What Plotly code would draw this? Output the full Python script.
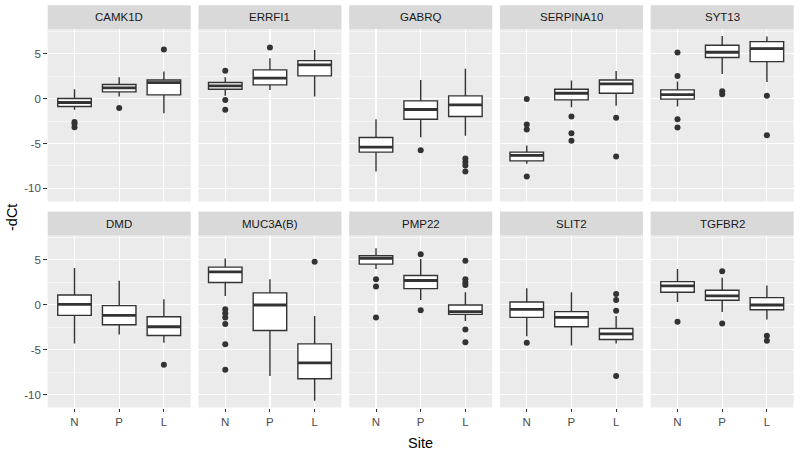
import plotly.graph_objects as go

genes = ["CAMK1D", "ERRFI1", "GABRQ", "SERPINA10", "SYT13",
         "DMD", "MUC3A(B)", "PMP22", "SLIT2", "TGFBR2"]
sites = ["N", "P", "L"]

lower = [[-1.26, 0.22, -1.63], [0.30, 0.96, 0.22], [-8.11, -4.30, -4.15],
         [-7.26, -0.96, -0.81], [-0.89, 2.74, 1.85], [-4.33, -3.32, -4.25],
         [0.97, -7.95, -10.71], [3.96, 0.52, -1.83], [-3.51, -4.55, -4.33],
         [0.30, -0.82, -1.64]]
q1 = [[-0.89, 0.74, 0.41], [1.04, 1.52, 2.52], [-5.96, -2.30, -2.00],
      [-6.93, -0.15, 0.59], [-0.07, 4.56, 4.11], [-1.19, -2.24, -3.43],
      [2.46, -2.87, -8.25], [4.51, 1.79, -1.08], [-1.42, -2.46, -3.88],
      [1.38, 0.49, -0.56]]
median = [[-0.44, 1.19, 1.78], [1.41, 2.26, 3.74], [-5.41, -1.22, -0.70],
          [-6.33, 0.59, 1.63], [0.44, 5.15, 5.56], [0.04, -1.19, -2.46],
          [3.66, -0.04, -6.49], [5.15, 2.69, -0.78], [-0.52, -1.42, -3.25],
          [2.09, 0.97, -0.04]]
q3 = [[0.00, 1.56, 2.07], [1.78, 3.19, 4.22], [-4.33, -0.26, 0.30],
      [-5.96, 1.04, 2.07], [0.96, 5.93, 6.33], [1.08, -0.11, -1.34],
      [4.18, 1.31, -4.37], [5.45, 3.25, -0.04], [0.30, -0.78, -2.65],
      [2.57, 1.60, 0.78]]
upper = [[1.04, 2.37, 3.00], [2.37, 4.48, 5.41], [-2.30, 2.07, 3.30],
         [-5.22, 2.00, 3.07], [1.89, 6.96, 6.89], [4.07, 2.65, 0.60],
         [5.15, 2.84, -1.27], [6.27, 5.07, 1.38], [1.83, 1.38, -1.27],
         [3.96, 2.99, 2.13]]
outliers = [
    [[-2.6, -2.8, -3.2], [-1.04], [5.44]],
    [[3.1, -0.15, -1.26], [5.67], []],
    [[], [-5.74], [-6.67, -7.07, -7.44, -8.11]],
    [[-0.04, -2.89, -3.44, -8.67], [-2.0, -3.85, -4.7], [-2.15, -6.44]],
    [[5.11, 2.52, -2.3, -3.22], [0.81, 0.48], [0.30, -4.07]],
    [[], [], [-6.68]],
    [[-0.52, -0.97, -1.42, -2.16, -4.40, -7.24], [], [4.78]],
    [[2.84, 2.01, -1.42], [5.60, -0.63], [4.89, 2.84, 2.46, 2.2, -2.76, -4.18]],
    [[-4.25], [], [1.19, 0.52, -0.67, -7.95]],
    [[-1.90], [3.73, -2.09], [-3.47, -4.03]],
]

W, H = 800, 455
FONT = "Liberation Sans, Arial, sans-serif"
BOXW = 0.75
YRANGE = [-11.45, 7.7]

panel_left0 = 47.7
panel_w = 143.0
panel_gap = 7.75
rows_px = [(29.3, 201.5), (235.5, 407.5)]
strip_h = 24.0

fig = go.Figure()
layout = dict(
    width=W, height=H, margin=dict(l=0, r=0, t=0, b=0),
    paper_bgcolor="white", plot_bgcolor="#EBEBEB", showlegend=False,
    font=dict(family=FONT, color="#4D4D4D"),
)
shapes = []
annotations = []

for k, gene in enumerate(genes):
    r, c = divmod(k, 5)
    n = k + 1
    xname = "xaxis" if n == 1 else f"xaxis{n}"
    yname = "yaxis" if n == 1 else f"yaxis{n}"
    xref = "x" if n == 1 else f"x{n}"
    yref = "y" if n == 1 else f"y{n}"
    x0 = panel_left0 + c * (panel_w + panel_gap)
    x1 = x0 + panel_w
    ytop, ybot = rows_px[r]
    layout[xname] = dict(
        domain=[x0 / W, x1 / W], anchor=yref, range=[0.4, 3.6],
        tickvals=[1, 2, 3], ticktext=sites, showticklabels=(r == 1),
        ticks="outside" if r == 1 else "", ticklen=3.5, tickcolor="#333333", tickwidth=1,
        showgrid=True, gridcolor="white", gridwidth=1.1, zeroline=False,
        showline=False, tickfont=dict(size=11.5, color="#4D4D4D", family=FONT),
        fixedrange=True,
    )
    layout[yname] = dict(
        domain=[1 - ybot / H, 1 - ytop / H], anchor=xref, range=YRANGE,
        tickvals=[-10, -5, 0, 5], ticktext=["-10", "-5", "0", "5"],
        showticklabels=(c == 0), ticks="outside" if c == 0 else "",
        ticklen=3.5, tickcolor="#333333", tickwidth=1,
        showgrid=True, gridcolor="white", gridwidth=1.1, zeroline=False,
        showline=False, tickfont=dict(size=11.5, color="#4D4D4D", family=FONT),
        minor=dict(tickvals=[-7.5, -2.5, 2.5, 7.5], showgrid=True,
                   gridcolor="white", gridwidth=0.55, ticks=""),
        fixedrange=True,
    )
    shapes.append(dict(type="rect", xref="paper", yref="paper",
                       x0=x0 / W, x1=x1 / W,
                       y0=1 - ytop / H, y1=1 - (ytop - strip_h) / H,
                       fillcolor="#D9D9D9", line=dict(width=0), layer="below"))
    annotations.append(dict(text=gene, xref="paper", yref="paper",
                            x=(x0 + x1) / 2 / W, y=1 - (ytop - strip_h / 2) / H,
                            showarrow=False, xanchor="center", yanchor="middle",
                            font=dict(size=11.5, color="#1A1A1A", family=FONT)))
    for j, s in enumerate(sites):
        xpos = j + 1
        fig.add_trace(go.Box(
            x=[xpos], q1=[q1[k][j]], median=[median[k][j]], q3=[q3[k][j]],
            lowerfence=[lower[k][j]], upperfence=[upper[k][j]],
            width=BOXW, whiskerwidth=0, boxpoints=False,
            fillcolor="white", line=dict(color="#333333", width=1.4),
            xaxis=xref, yaxis=yref, hoverinfo="skip",
        ))
        fig.add_trace(go.Scatter(
            x=[xpos - BOXW / 2, xpos + BOXW / 2], y=[median[k][j], median[k][j]],
            mode="lines", line=dict(color="#333333", width=2.8),
            xaxis=xref, yaxis=yref, hoverinfo="skip",
        ))
        if outliers[k][j]:
            fig.add_trace(go.Scatter(
                x=[xpos] * len(outliers[k][j]), y=outliers[k][j], mode="markers",
                marker=dict(color="#333333", size=6),
                xaxis=xref, yaxis=yref, hoverinfo="skip",
            ))

annotations.append(dict(text="-dCt", xref="paper", yref="paper",
                        x=12 / W, y=1 - 218 / H, textangle=-90, showarrow=False,
                        xanchor="center", yanchor="middle",
                        font=dict(size=14.5, color="black", family=FONT)))
annotations.append(dict(text="Site", xref="paper", yref="paper",
                        x=420.7 / W, y=1 - 443.3 / H, showarrow=False,
                        xanchor="center", yanchor="middle",
                        font=dict(size=14.5, color="black", family=FONT)))

layout["shapes"] = shapes
layout["annotations"] = annotations
fig.update_layout(**layout)
fig.write_html("out.html", config={"displayModeBar": False, "staticPlot": True},
               post_script="document.body.style.margin='0';document.body.style.overflow='hidden';")
